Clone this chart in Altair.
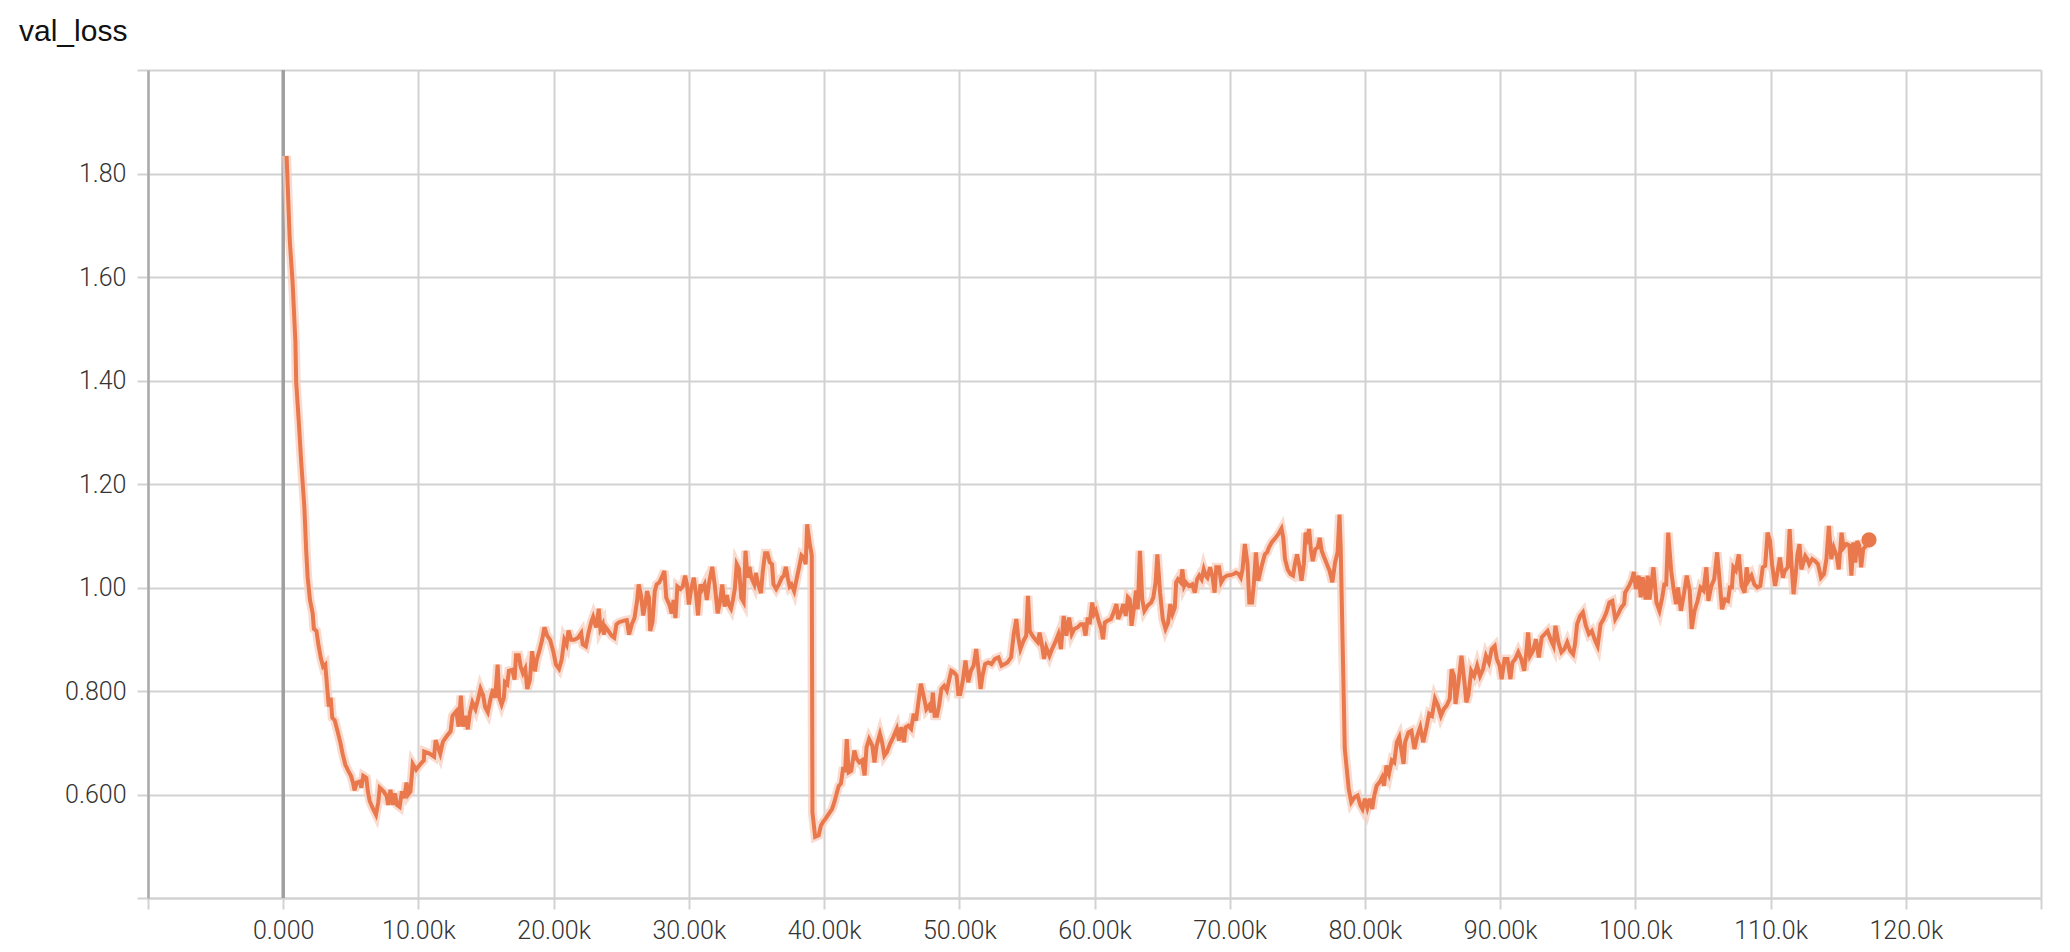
import altair as alt
import pandas as pd

# ---- data (training step, val_loss) ----
steps = [
    250, 480, 700, 900, 960, 1130, 1330, 1560, 1700, 1810, 1980, 2180, 2270, 2460, 2600, 2780,
    2950, 3110, 3260, 3370, 3510, 3630, 3800, 4020, 4220, 4390, 4590, 4820, 5010, 5160, 5270,
    5440, 5670, 5780, 5920, 6150, 6260, 6400, 6630, 6860, 7030, 7140, 7420, 7650, 7760, 7930,
    8100, 8270, 8410, 8610, 8780, 8950, 9120, 9240, 9410, 9580, 9830, 10090, 10400, 10430,
    10820, 11160, 11270, 11440, 11610, 11810, 12100, 12380, 12520, 12800, 12970, 13140, 13290,
    13460, 13650, 13800, 13990, 14220, 14390, 14590, 14790, 14930, 15130, 15350, 15520, 15670,
    15860, 15980, 16150, 16320, 16400, 16570, 16690, 16940, 17110, 17220, 17420, 17560, 17730,
    17900, 18050, 18240, 18410, 18610, 18750, 18980, 19150, 19320, 19520, 19740, 19970, 20170,
    20400, 20590, 20790, 20960, 21100, 21300, 21530, 21810, 22040, 22150, 22380, 22580, 22780,
    22920, 23140, 23340, 23460, 23630, 23710, 23850, 24050, 24280, 24480, 24650, 24840, 25210,
    25410, 25580, 25780, 25980, 26180, 26290, 26460, 26630, 26770, 26910, 27050, 27140, 27310,
    27480, 27620, 27820, 28050, 28190, 28330, 28560, 28730, 28870, 29010, 29150, 29380, 29550,
    29720, 29860, 30000, 30170, 30370, 30540, 30680, 30850, 30990, 31160, 31330, 31500, 31730,
    31930, 32130, 32300, 32470, 32640, 32810, 32950, 33120, 33260, 33400, 33540, 33710, 33880,
    34050, 34190, 34330, 34480, 34620, 34840, 34960, 35130, 35330, 35470, 35640, 35810, 35980,
    36150, 36260, 36460, 36660, 36880, 37030, 37170, 37310, 37450, 37590, 37790, 37960, 38160,
    38330, 38500, 38640, 38750, 38920, 39090,
    39140, 39340, 39600, 39770, 39930, 40100, 40360, 40590, 40760, 40920, 41090, 41250, 41420,
    41550, 41680, 41820, 42010, 42240, 42410, 42610, 42810, 43000, 43140, 43330, 43560, 43730,
    43890, 44130, 44290, 44460, 44650, 44880, 45120, 45380, 45540, 45710, 45910, 46040, 46240,
    46440, 46630, 46800, 46960, 47160, 47360, 47560, 47760, 47920, 48050, 48180, 48350, 48510,
    48680, 48880, 49080, 49240, 49410, 49600, 49800, 49930, 50070, 50260, 50460, 50660, 50860,
    51060, 51250, 51420, 51580, 51720, 51910, 52140, 52380, 52640, 52900, 53130, 53370, 53560,
    53830, 54030, 54220, 54360, 54520, 54750, 54950, 55080, 55210, 55410, 55610, 55810, 55940,
    56100, 56270, 56430, 56670, 56860, 57090, 57330, 57520, 57720, 57920, 58120, 58320, 58510,
    58740, 58980, 59170, 59340, 59500, 59640, 59830, 59970, 60100, 60300, 60490, 60630, 60760,
    60960, 61220, 61420, 61620, 61750, 61950, 62140, 62310, 62470, 62610, 62740, 62940, 63070,
    63200, 63360, 63530, 63690, 63930, 64190, 64350, 64520, 64650, 64850, 65050, 65250, 65440,
    65610, 65770, 65940, 66040, 66170, 66370, 66500, 66630, 66760, 66990, 67230, 67420, 67590,
    67750, 67920, 68080, 68220, 68350, 68550, 68740, 68880, 69010, 69210, 69370, 69570, 69800,
    70060, 70290, 70460, 70660, 70820, 70950, 71120, 71320, 71450, 71650, 71780, 71940, 72110,
    72370, 72600, 72770, 72900, 73100, 73360, 73590, 73830, 73960, 74090, 74290, 74490, 74680,
    74820, 74980, 75150, 75310, 75480, 75610, 75740, 75870, 76000, 76140, 76330, 76500, 76660,
    76800, 76990, 77190, 77390, 77590, 77790, 77980, 78120, 78210,
    78510, 78800, 78990, 79240, 79460, 79670, 79820, 80000, 80180, 80360, 80540, 80690, 80870,
    81090, 81270, 81410, 81590, 81780, 81990, 82170, 82360, 82540, 82720, 82860, 82970, 83220,
    83440, 83660, 83880, 84090, 84310, 84530, 84750, 84960, 85180, 85400, 85620, 85830, 86050,
    86270, 86410, 86590, 86700, 86920, 87140, 87360, 87500, 87650, 87860, 88080, 88300, 88510,
    88730, 88950, 89170, 89380, 89600, 89750, 89960, 90110, 90330, 90540, 90760, 90910, 91120,
    91340, 91560, 91780, 91920, 92070, 92210, 92430, 92650, 92860, 93080, 93300, 93510, 93730,
    93950, 94090, 94310, 94530, 94750, 94960, 95180, 95400, 95540, 95690, 95910, 96120, 96340,
    96560, 96780, 96990, 97210, 97430, 97650, 97860, 98080, 98300, 98510, 98730, 98950, 99170,
    99240, 99530, 99750, 99890, 100040, 100250, 100400, 100540, 100760, 100910, 101050, 101200,
    101340, 101560, 101780, 101990, 102140, 102280, 102430, 102650, 102830, 103010, 103150,
    103370, 103590, 103800, 104020, 104170, 104380, 104600, 104820, 105040, 105250, 105400,
    105620, 105830, 106050, 106200, 106410, 106630, 106850, 106990, 107140, 107250, 107430,
    107650, 107860, 108080, 108230, 108370, 108590, 108800, 109020, 109240, 109420, 109600,
    109780, 109960, 110110, 110330, 110470, 110690, 110910, 111050, 111270, 111410, 111560,
    111700, 111850, 111990, 112140, 112280, 112430, 112570, 112720, 112860, 113080, 113300,
    113510, 113730, 113950, 114130, 114310, 114490, 114670, 114890, 115040, 115250, 115400,
    115620, 115830, 115980, 116120, 116270, 116410, 116560, 116700, 116850, 117070, 117280,
]

val_loss = [
    1.834, 1.673, 1.587, 1.475, 1.397, 1.329, 1.243, 1.157, 1.071, 1.019, 0.976, 0.950, 0.920, 0.916, 0.890, 0.864,
    0.847, 0.851, 0.804, 0.770, 0.787, 0.748, 0.744, 0.722, 0.701, 0.679, 0.658, 0.645, 0.636, 0.623, 0.608,
    0.623, 0.625, 0.613, 0.636, 0.632, 0.606, 0.587, 0.573, 0.561, 0.585, 0.613, 0.606, 0.597, 0.580, 0.609,
    0.580, 0.602, 0.580, 0.576, 0.606, 0.593, 0.623, 0.600, 0.606, 0.659, 0.648, 0.657, 0.666, 0.683,
    0.679, 0.673, 0.705, 0.692, 0.679, 0.702, 0.713, 0.722, 0.752, 0.761, 0.731, 0.791, 0.731,
    0.752, 0.726, 0.757, 0.778, 0.765, 0.782, 0.804, 0.791, 0.769, 0.759, 0.787, 0.804, 0.787,
    0.851, 0.787, 0.774, 0.787, 0.817, 0.813, 0.839, 0.841, 0.822, 0.869, 0.869, 0.847, 0.834,
    0.843, 0.804, 0.821, 0.877, 0.838, 0.860, 0.881, 0.899, 0.923, 0.907, 0.899, 0.877, 0.851,
    0.843, 0.860, 0.899, 0.890, 0.917, 0.899, 0.899, 0.903, 0.912, 0.890, 0.886, 0.912, 0.933,
    0.943, 0.923, 0.959, 0.920, 0.929, 0.909, 0.923, 0.916, 0.907, 0.903, 0.929, 0.933, 0.936,
    0.937, 0.909, 0.929, 0.941, 0.976, 1.006, 0.985, 0.946, 0.967, 0.993, 0.980, 0.916, 0.933,
    0.993, 1.006, 1.010, 1.023, 1.032, 0.980, 0.967, 0.950, 0.976, 0.941, 1.002, 0.997, 1.002,
    1.023, 1.006, 0.967, 0.997, 1.019, 0.985, 0.946, 1.006, 0.997, 1.006, 0.976, 1.010, 1.040,
    1.002, 0.950, 0.972, 1.006, 0.963, 0.985, 0.967, 0.959, 0.976, 0.997, 1.045, 1.036, 0.980,
    0.972, 1.071, 1.019, 1.040, 1.019, 1.006, 1.028, 1.006, 0.989, 1.032, 1.066, 1.066, 1.049,
    1.045, 1.006, 0.997, 1.006, 1.019, 1.023, 1.040, 1.019, 1.002, 1.006, 0.993, 1.015, 1.040,
    1.062, 1.058, 1.045, 1.122, 1.088, 1.062,
    0.566, 0.518, 0.521, 0.540, 0.547, 0.553, 0.563, 0.572, 0.585, 0.601, 0.617, 0.621, 0.653,
    0.643, 0.707, 0.643, 0.646, 0.685, 0.669, 0.662, 0.666, 0.637, 0.691, 0.707, 0.695, 0.662,
    0.695, 0.717, 0.701, 0.675, 0.682, 0.698, 0.711, 0.727, 0.704, 0.730, 0.701, 0.730, 0.733,
    0.727, 0.756, 0.743, 0.775, 0.814, 0.791, 0.765, 0.772, 0.759, 0.797, 0.752, 0.752, 0.772,
    0.804, 0.810, 0.801, 0.820, 0.839, 0.836, 0.830, 0.794, 0.794, 0.820, 0.859, 0.817, 0.839,
    0.849, 0.881, 0.842, 0.804, 0.830, 0.852, 0.855, 0.852, 0.862, 0.865, 0.849, 0.852, 0.855,
    0.865, 0.910, 0.939, 0.904, 0.881, 0.897, 0.907, 0.984, 0.916, 0.907, 0.900, 0.894, 0.913,
    0.891, 0.862, 0.884, 0.868, 0.881, 0.894, 0.910, 0.881, 0.945, 0.907, 0.942, 0.910, 0.920,
    0.923, 0.929, 0.929, 0.907, 0.942, 0.929, 0.971, 0.949, 0.955, 0.936, 0.920, 0.900, 0.932,
    0.936, 0.939, 0.952, 0.968, 0.939, 0.952, 0.968, 0.945, 0.981, 0.977, 0.926, 0.965, 0.994,
    0.958, 1.071, 0.977, 0.955, 0.965, 0.971, 0.981, 1.010, 1.064, 0.990, 0.939, 0.920, 0.932,
    0.968, 0.949, 0.961, 1.010, 1.016, 1.010, 1.035, 1.003, 1.010, 1.003, 1.006, 0.990, 1.016,
    1.023, 1.016, 1.035, 1.023, 1.019, 1.039, 1.019, 0.990, 1.039, 1.039, 1.010, 1.019, 1.023,
    1.024, 1.026, 1.029, 1.026, 1.019, 1.035, 1.084, 1.045, 0.971, 0.971, 1.006, 1.068, 1.013,
    1.042, 1.064, 1.068, 1.077, 1.087, 1.095, 1.103, 1.114, 1.096, 1.055, 1.035, 1.026, 1.023,
    1.045, 1.064, 1.042, 1.013, 1.045, 1.106, 1.096, 1.113, 1.074, 1.051, 1.074, 1.077, 1.096,
    1.071, 1.058, 1.045, 1.032, 1.010, 1.048, 1.068, 1.141, 1.074,
    0.688, 0.611, 0.585, 0.595, 0.598, 0.579, 0.572, 0.592, 0.574, 0.592, 0.572, 0.598, 0.617,
    0.624, 0.633, 0.617, 0.656, 0.640, 0.666, 0.662, 0.701, 0.711, 0.682, 0.659, 0.701, 0.720,
    0.723, 0.688, 0.714, 0.730, 0.701, 0.727, 0.756, 0.752, 0.785, 0.772, 0.752, 0.765, 0.772,
    0.785, 0.842, 0.829, 0.775, 0.817, 0.868, 0.817, 0.778, 0.791, 0.839, 0.829, 0.849, 0.829,
    0.842, 0.868, 0.855, 0.881, 0.887, 0.862, 0.849, 0.823, 0.862, 0.862, 0.823, 0.855, 0.862,
    0.875, 0.862, 0.839, 0.871, 0.913, 0.868, 0.878, 0.900, 0.865, 0.904, 0.910, 0.916, 0.900,
    0.887, 0.926, 0.894, 0.875, 0.881, 0.894, 0.878, 0.871, 0.891, 0.929, 0.945, 0.952, 0.926,
    0.910, 0.916, 0.900, 0.887, 0.929, 0.939, 0.952, 0.971, 0.974, 0.939, 0.949, 0.961, 0.968,
    0.990, 1.003, 1.016, 1.030, 0.997, 1.023, 0.981, 1.020, 0.977, 1.023, 0.977, 1.010,
    1.039, 0.971, 0.955, 0.981, 1.006, 1.006, 1.106, 1.032, 0.997, 0.968, 1.000,
    0.955, 0.987, 1.023, 0.994, 0.920, 0.955, 0.974, 1.000, 0.994, 1.039, 0.974,
    1.003, 1.016, 1.068, 1.023, 0.958, 0.977, 0.974, 1.000, 1.000, 1.039, 1.033,
    1.064, 1.003, 0.990, 1.039, 1.013, 1.023, 1.006, 1.000, 1.003, 1.039, 1.042,
    1.106, 1.090, 1.045, 1.003, 1.023, 1.058, 1.019, 1.032, 1.039, 1.113, 1.042,
    0.987, 1.023, 1.064, 1.084, 1.035, 1.048, 1.061, 1.055, 1.045, 1.055, 1.051,
    1.045, 1.019, 1.026, 1.055, 1.119, 1.055, 1.077, 1.061, 1.035, 1.106, 1.077,
    1.084, 1.081, 1.023, 1.087, 1.048, 1.090, 1.081, 1.039, 1.074, 1.081, 1.092,
]

x_ticks = list(range(-10000, 130001, 10000))
y_ticks = [0.4, 0.6, 0.8, 1.0, 1.2, 1.4, 1.6, 1.8, 2.0]
zero_line = [0]
title_text = ["val_loss"]

df = pd.DataFrame({"step": steps, "value": val_loss})
last = df.tail(1)

LINE = "#e9784c"
HALO = "#f7cfbf"
GRID = "#d2d2d2"

x_scale = alt.Scale(domain=[-10000, 130000], nice=False, zero=False)
y_scale = alt.Scale(domain=[0.4, 2.0], nice=False, zero=False)

label_style = dict(
    labelFont="Roboto", labelFontWeight=300, labelFontSize=25, labelColor="#333333",
    labelOverlap=False, labelFlush=False,
)

x_axis = alt.Axis(
    values=x_ticks, title=None, grid=True, gridColor=GRID, gridWidth=2,
    domainColor=GRID, domainWidth=2, tickColor=GRID, tickWidth=2, tickSize=11,
    labelPadding=9,
    labelExpr="(datum.value < 0 || datum.value > 125000) ? '' : format(datum.value, '.4s')",
    **label_style,
)
y_axis = alt.Axis(
    values=y_ticks, title=None, grid=True, gridColor=GRID, gridWidth=2,
    domainColor="#ababab", domainWidth=2.5, tickColor=GRID, tickWidth=2, tickSize=11,
    labelPadding=11,
    labelExpr="(datum.value < 0.5 || datum.value > 1.9) ? '' : format(datum.value, '.3r')",
    **label_style,
)

X = alt.X("step:Q", scale=x_scale, axis=x_axis)
Y = alt.Y("value:Q", scale=y_scale, axis=y_axis)

zero_rule = alt.Chart(pd.DataFrame({"step": zero_line})).mark_rule(
    color="#9f9f9f", strokeWidth=3.5
).encode(x=X)

halo = alt.Chart(df).mark_line(color=HALO, strokeWidth=9, opacity=0.75).encode(x=X, y=Y)
line = alt.Chart(df).mark_line(color=LINE, strokeWidth=4).encode(x=X, y=Y)
end_point = alt.Chart(last).mark_circle(color=LINE, size=230, opacity=1).encode(x=X, y=Y)

title = alt.Chart(pd.DataFrame({"t": title_text})).mark_text(
    align="left", baseline="alphabetic", font="Liberation Sans", fontSize=30, color="#111111"
).encode(text="t:N", x=alt.value(-129), y=alt.value(-29))

chart = (
    alt.layer(zero_rule, halo, line, end_point, title)
    .properties(
        width=1893,
        height=828,
        autosize=alt.AutoSizeParams(type="none"),
        padding={"left": 140, "top": 62, "right": 20, "bottom": 46},
    )
    .configure_view(strokeWidth=0)
)

chart.save("out.html", embed_options={"renderer": "svg", "actions": False})
